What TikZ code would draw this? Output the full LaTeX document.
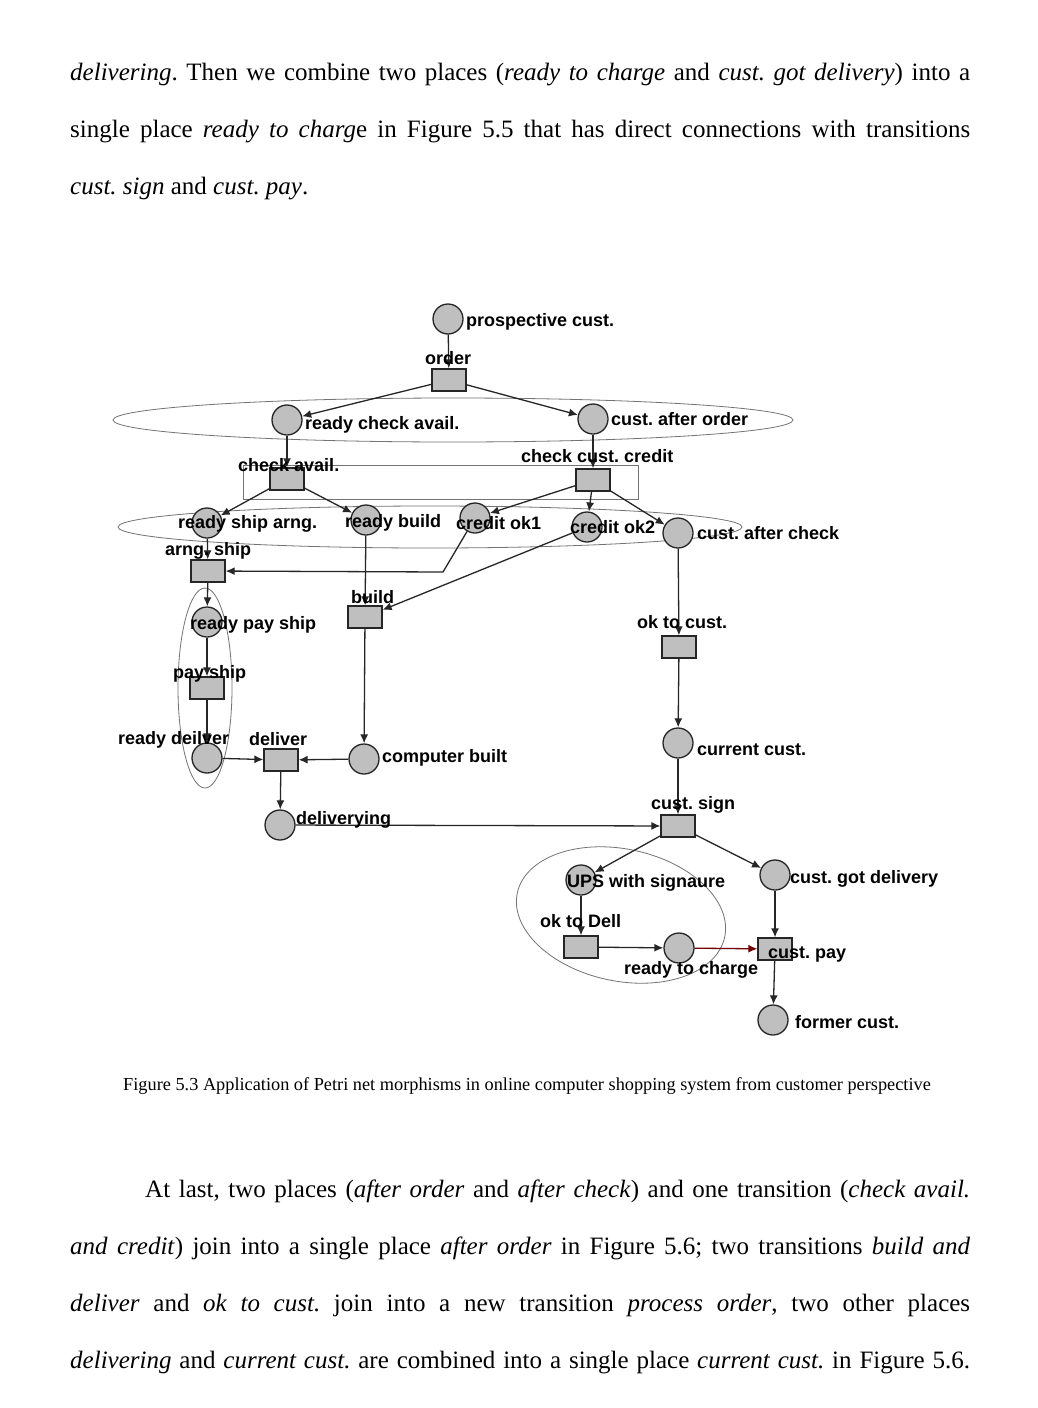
\documentclass[tikz,border=0pt]{standalone}
\usepackage{fontspec}
\setmainfont{Liberation Serif}
\newfontfamily\netfont{Liberation Sans}
\usetikzlibrary{arrows.meta}
\frenchspacing

\begin{document}
\begin{tikzpicture}[x=1pt, y=-1pt,
  place/.style={circle, draw=black!85, line width=1.3pt, fill=black!25, minimum size=30pt, inner sep=0pt},
  trans/.style={rectangle, draw=black!85, line width=1.3pt, fill=black!25, minimum width=34pt, minimum height=22pt, inner sep=0pt},
  lab/.style={anchor=west, inner sep=0pt, font=\netfont\bfseries\fontsize{18}{18}\selectfont, text height=13pt, text depth=0pt},
  arc/.style={line width=1.3pt, draw=black!85, -{Latex[length=9pt,width=8pt]}},
  group/.style={draw=black!55, line width=0.8pt},
  body/.style={anchor=base west, inner sep=0pt, font=\fontsize{25}{25}\selectfont}]

  % Page
  \fill[white] (0,0) rectangle (1038,1408);
  \useasboundingbox (0,0) rectangle (1038,1408);

  % Text above the figure
  \node[body] (pa1) at (70,80) {\makebox[900pt][s]{\textit{delivering}. Then we combine two places (\textit{ready to charge} and \textit{cust. got delivery}) into a}};
  \node[body] (pa2) at (70,137) {\makebox[900pt][s]{single place \textit{ready to charg}e in Figure 5.5 that has direct connections with transitions}};
  \node[body] (pa3) at (70,194) {\textit{cust. sign} and \textit{cust. pay}.};

  % Groups of merged elements
  \draw[group] (453,420) ellipse [x radius=340, y radius=22];
  \draw[group] (243,465) rectangle (638,499);
  \draw[group] (430,527) ellipse [x radius=312, y radius=21];
  \draw[group] (205,688) ellipse [x radius=27, y radius=100];
  \draw[group, rotate around={-12:(621,915)}] (621,915) ellipse [x radius=106, y radius=66];

  % Places
  \node[place] (prosp) at (448,319) {};
  \node[place] (rca) at (287,420) {};
  \node[place] (cao) at (593,419) {};
  \node[place] (rsa) at (207,523) {};
  \node[place] (rbuild) at (366,520) {};
  \node[place] (cok1) at (475,518) {};
  \node[place] (cok2) at (587,527) {};
  \node[place] (cac) at (678,533) {};
  \node[place] (rps) at (207,622) {};
  \node[place] (rdel) at (207,758) {};
  \node[place] (cbuilt) at (364,759) {};
  \node[place] (dlvg) at (280,825) {};
  \node[place] (curr) at (678,743) {};
  \node[place] (ups) at (581,880) {};
  \node[place] (got) at (775,875) {};
  \node[place] (rtc) at (679,948) {};
  \node[place] (former) at (773,1020) {};

  % Transitions
  \node[trans] (order) at (449,380) {};
  \node[trans] (chkav) at (287,479) {};
  \node[trans] (chkcr) at (593,480) {};
  \node[trans] (arng) at (208,571) {};
  \node[trans] (build) at (365,617) {};
  \node[trans] (pship) at (207,688) {};
  \node[trans] (deliv) at (281,760) {};
  \node[trans] (okc) at (679,647) {};
  \node[trans] (sign) at (678,826) {};
  \node[trans] (okdell) at (581,947) {};
  \node[trans] (pay) at (775,949) {};

  % Arcs
  \coordinate (bend) at (443,572);
  \draw[arc] (prosp) -- (order);
  \draw[arc] (order) -- (rca);
  \draw[arc] (order) -- (cao);
  \draw[arc] (rca) -- (chkav);
  \draw[arc] (cao) -- (chkcr);
  \draw[arc] (chkav) -- (rsa);
  \draw[arc] (chkav) -- (rbuild);
  \draw[arc] (chkcr) -- (cok1);
  \draw[arc] (chkcr) -- (cok2);
  \draw[arc] (chkcr) -- (cac);
  \draw[arc] (rsa) -- (arng);
  \draw[arc] (cok1) -- (bend) -- (arng);
  \draw[arc] (rbuild) -- (build);
  \draw[arc] (cok2) -- (build);
  \draw[arc] (arng) -- (rps);
  \draw[arc] (rps) -- (pship);
  \draw[arc] (pship) -- (rdel);
  \draw[arc] (rdel) -- (deliv);
  \draw[arc] (build) -- (cbuilt);
  \draw[arc] (cbuilt) -- (deliv);
  \draw[arc] (deliv) -- (dlvg);
  \draw[arc] (dlvg) -- (sign);
  \draw[arc] (cac) -- (okc);
  \draw[arc] (okc) -- (curr);
  \draw[arc] (curr) -- (sign);
  \draw[arc] (sign) -- (ups);
  \draw[arc] (sign) -- (got);
  \draw[arc] (ups) -- (okdell);
  \draw[arc] (okdell) -- (rtc);
  \draw[arc, draw=red!45!black] (rtc) -- (pay);
  \draw[arc] (got) -- (pay);
  \draw[arc] (pay) -- (former);

  % Labels
  \node[lab] (l-prosp) at (466,320) {prospective cust.};
  \node[lab] (l-order) at (425,358) {order};
  \node[lab] (l-rca) at (305,423) {ready check avail.};
  \node[lab] (l-cao) at (611,419) {cust. after order};
  \node[lab] (l-chkav) at (238,465) {check avail.};
  \node[lab] (l-chkcr) at (521,456) {check cust. credit};
  \node[lab] (l-rsa) at (178,522) {ready ship arng.};
  \node[lab] (l-rbuild) at (345,521) {ready build};
  \node[lab] (l-cok1) at (456,523) {credit ok1};
  \node[lab] (l-cok2) at (570,527) {credit ok2};
  \node[lab] (l-cac) at (697,533) {cust. after check};
  \node[lab] (l-arng) at (165,549) {arng. ship};
  \node[lab] (l-build) at (351,597) {build};
  \node[lab] (l-rps) at (190,623) {ready pay ship};
  \node[lab] (l-pship) at (173,672) {pay ship};
  \node[lab] (l-rdel) at (118,738) {ready deilver};
  \node[lab] (l-deliv) at (249,739) {deliver};
  \node[lab] (l-cbuilt) at (382,756) {computer built};
  \node[lab] (l-dlvg) at (296,818) {deliverying};
  \node[lab] (l-okc) at (637,622) {ok to cust.};
  \node[lab] (l-curr) at (697,749) {current cust.};
  \node[lab] (l-sign) at (651,803) {cust. sign};
  \node[lab] (l-ups) at (567,881) {UPS with signaure};
  \node[lab] (l-got) at (790,877) {cust. got delivery};
  \node[lab] (l-okdell) at (540,921) {ok to Dell};
  \node[lab] (l-rtc) at (624,968) {ready to charge};
  \node[lab] (l-pay) at (768,952) {cust. pay};
  \node[lab] (l-former) at (795,1022) {former cust.};

  % Caption
  \node[anchor=base, inner sep=0pt, font=\fontsize{18.3}{18.3}\selectfont] (cap) at (527,1090) {Figure 5.3 Application of Petri net morphisms in online computer shopping system from customer perspective};

  % Text below the figure
  \node[body] (pb1) at (145,1197) {\makebox[825pt][s]{At last, two places (\textit{after order} and \textit{after check}) and one transition (\textit{check avail.}}};
  \node[body] (pb2) at (70,1254) {\makebox[900pt][s]{\textit{and credit}) join into a single place \textit{after order} in Figure 5.6; two transitions \textit{build and}}};
  \node[body] (pb3) at (70,1311) {\makebox[900pt][s]{\textit{deliver} and \textit{ok to cust.} join into a new transition \textit{process order}, two other places}};
  \node[body] (pb4) at (70,1368) {\makebox[900pt][s]{\textit{delivering} and \textit{current cust.} are combined into a single place \textit{current cust.} in Figure 5.6.}};

\end{tikzpicture}
\end{document}
